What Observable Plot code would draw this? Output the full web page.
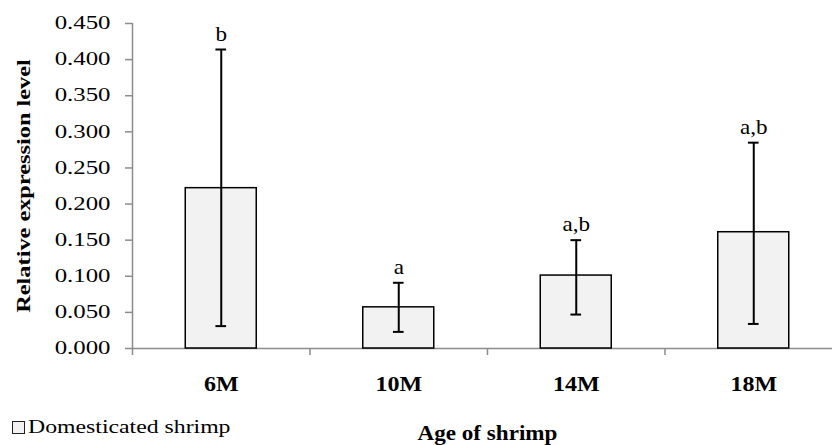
<!DOCTYPE html>
<html>
<head>
<meta charset="utf-8">
<script src="https://cdn.jsdelivr.net/npm/d3@7"></script>
<script src="https://cdn.jsdelivr.net/npm/@observablehq/plot@0.6"></script>
<style>
  html, body { margin: 0; padding: 0; background: #fff; overflow: hidden; }
  #wrap { position: relative; width: 832px; height: 445px; }
  #legend { position: absolute; left: 12px; top: 416px; display: flex; align-items: center;
            font-family: "Liberation Serif", "Times New Roman", serif; font-size: 19px; color: #000; }
  #legend .box { width: 11px; height: 11px; background: #f2f2f2; border: 1.5px solid #222; margin-right: 3px; }
  #legend .lab { display: inline-block; transform: scaleX(1.25); transform-origin: left center; }
</style>
</head>
<body>
<div id="wrap"><div id="legend"></div></div>
<script>
// ---- data ----
const categories = ["6M", "10M", "14M", "18M"];
const means  = [0.222, 0.057, 0.101, 0.161];
const lowers = [0.031, 0.023, 0.047, 0.034];
const uppers = [0.414, 0.091, 0.150, 0.285];
const letters = ["b", "a", "a,b", "a,b"];
const yTicks = [0, 0.05, 0.1, 0.15, 0.2, 0.25, 0.3, 0.35, 0.4, 0.45];
const seriesName = "Domesticated shrimp";
const xTitle = "Age of shrimp";
const yTitle = "Relative expression level";

const data = categories.map((c, i) => ({
  cat: c, i, mean: means[i], lower: lowers[i], upper: uppers[i], letter: letters[i]
}));
const gray = "#8c8c8c";
const center = d => d.i + 0.5;
const fmt = d3.format(".3f");

const chart = Plot.plot({
  width: 832, height: 445,
  marginTop: 23, marginBottom: 97, marginLeft: 132, marginRight: -10,
  x: {domain: [0, categories.length], axis: null},
  y: {domain: [0, 0.45], axis: null},
  style: {fontFamily: "'Liberation Serif', 'Times New Roman', serif", background: "transparent", overflow: "hidden", color: "#000"},
  marks: [
    Plot.axisY({ticks: yTicks, tickFormat: fmt, tickSize: 7, tickPadding: 15,
      stroke: gray, fill: "#000", fontSize: 18, strokeWidth: 1.5, label: null}),
    Plot.axisX({ticks: d3.range(categories.length + 1), tickSize: 7, tickFormat: () => "",
      stroke: gray, strokeWidth: 1.5, label: null}),
    Plot.axisX({ticks: data.map(center), tickFormat: v => categories[Math.floor(v)], tickSize: 0, tickPadding: 28,
      fontSize: 20, fontWeight: "bold", fill: "#000", label: null}),
    Plot.ruleY([0], {stroke: gray, strokeWidth: 1.5}),
    Plot.ruleX([0], {y1: 0, y2: 0.45, stroke: gray, strokeWidth: 1.5}),
    Plot.rectY(data, {x1: d => d.i + 0.3, x2: d => d.i + 0.7, y1: () => 0, y2: "mean",
      fill: "#f2f2f2", stroke: "#000", strokeWidth: 1.5}),
    Plot.ruleX(data, {x: center, y1: "lower", y2: "upper", stroke: "#000", strokeWidth: 2}),
    Plot.ruleY(data, {y: "upper", x1: d => d.i + 0.47, x2: d => d.i + 0.53, stroke: "#000", strokeWidth: 2}),
    Plot.ruleY(data, {y: "lower", x1: d => d.i + 0.47, x2: d => d.i + 0.53, stroke: "#000", strokeWidth: 2}),
    Plot.text(data, {x: center, y: "upper", text: "letter", dy: -9, lineAnchor: "bottom",
      fontSize: 21, fill: "#000"}),
    Plot.text([yTitle], {frameAnchor: "left", textAnchor: "middle", rotate: -90, dx: -109, fontSize: 19, fontWeight: "bold",
      fill: "#000"}),
    Plot.text([xTitle], {frameAnchor: "bottom", dy: 91, lineAnchor: "bottom", fontSize: 22, fontWeight: "bold",
      fill: "#000"})
  ]
});

const wrap = document.getElementById("wrap");
wrap.insertBefore(chart, wrap.firstChild);

document.getElementById("legend").innerHTML =
  `<span class="box"></span><span class="lab">${seriesName}</span>`;

// the reference's text is drawn horizontally widened; reproduce that
const yLabels = new Set(yTicks.map(fmt));
const xLabels = new Set(categories);
const letterSet = new Set(letters);
chart.querySelectorAll("text").forEach(t => {
  const s = t.textContent;
  let k = 1;
  if (yLabels.has(s)) k = 1.38;
  else if (xLabels.has(s)) k = 1.2;
  else if (s === yTitle) k = 1.28;
  else if (s === xTitle) k = 1.05;
  else if (letterSet.has(s)) k = 1.1;
  if (k === 1) return;
  const w = t.getComputedTextLength();
  if (w > 0) { t.setAttribute("textLength", w * k); t.setAttribute("lengthAdjust", "spacingAndGlyphs"); }
});
</script>
</body>
</html>
